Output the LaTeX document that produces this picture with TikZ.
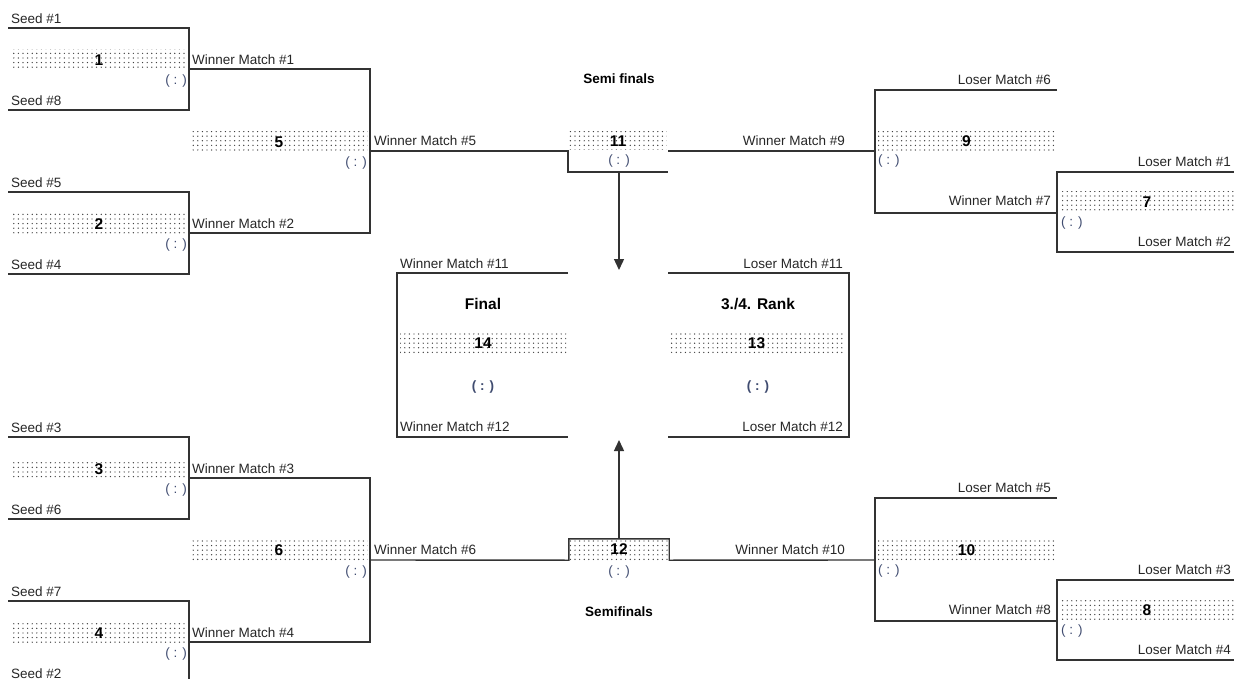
\documentclass[tikz,border=0pt]{standalone}
\usepackage{fontspec}
\setmainfont{Liberation Sans}
\usetikzlibrary{arrows.meta,patterns.meta}
\definecolor{scoreblue}{RGB}{64,76,112}

\begin{document}
\begin{tikzpicture}[x=1pt,y=-1pt,
    line/.style={draw=black!80,line width=1.4pt},
    lbl/.style={inner sep=0pt,text height=9pt,text depth=0pt,font=\fontsize{13.5}{15}\selectfont,text=black!85},
    head/.style={inner sep=0pt,text height=10pt,text depth=0pt,font=\fontsize{13.5}{15}\selectfont\bfseries},
    big/.style={inner sep=0pt,text height=11pt,text depth=0pt,font=\fontsize{15.5}{17}\selectfont\bfseries},
    band/.style={inner sep=0pt,minimum height=20pt,text height=10.5pt,text depth=0pt,
        font=\fontsize{15.5}{17}\selectfont\bfseries,
        pattern={Dots[distance=4.6pt,radius=0.7pt]},pattern color=black!75},
    score/.style={inner sep=0pt,font=\fontsize{13.5}{15}\selectfont,text=scoreblue},
    arr/.style={line,-{Triangle[width=10pt,length=11pt]}}]
    \useasboundingbox (0,0) rectangle (1234,679);

    \foreach \m/\y/\a/\b in {1/28/1/8,2/192/5/4,3/437/3/6,4/601/7/2}{
        \coordinate (top\m) at (8,\y);
        \coordinate (bot\m) at (8,\y+82);
        \coordinate (w\m) at (189,\y+41);
        \node[lbl,anchor=west] (seed\m a) at (11,\y-9) {Seed \#\a};
        \node[lbl,anchor=west] (seed\m b) at (11,\y+73) {Seed \#\b};
        \node[band,minimum width=175pt] (m\m) at (99,\y+32) {\m};
        \node[score,anchor=east] (r\m) at (187,\y+53) {( : )};
        \node[lbl,anchor=west] (wl\m) at (192,\y+32) {Winner Match \#\m};
        \draw[line] (top\m) -| (w\m) |- (bot\m);
    }

    \coordinate (v5) at (370,151);
    \coordinate (v6) at (370,560);
    \draw[line] (w1) -| (v5) |- (w2);
    \draw[line] (w3) -| (v6) |- (w4);
    \node[band,minimum width=177pt] (m5) at (279,142) {5};
    \node[score,anchor=east] (r5) at (367,163) {( : )};
    \node[lbl,anchor=west] (wl5) at (374,141) {Winner Match \#5};
    \node[band,minimum width=177pt] (m6) at (279,550) {6};
    \node[score,anchor=east] (r6) at (367,572) {( : )};
    \node[lbl,anchor=west] (wl6) at (374,550) {Winner Match \#6};

    \node[head] (semi1) at (619,79) {Semi finals};
    \node[band,minimum width=97pt,minimum height=18pt] (m11) at (618,141) {11};
    \node[score] (r11) at (619,161) {( : )};
    \coordinate (k11) at (568,172);
    \coordinate (k11e) at (668,172);
    \coordinate (c11) at (668,151);
    \coordinate (v9) at (875,151);
    \coordinate (a11) at (619,172);
    \coordinate (a11e) at (619,270);
    \draw[line] (v5) -| (k11) -- (k11e);
    \draw[arr] (a11) -- (a11e);

    \node[head] (semi2) at (619,611) {Semifinals};
    \node[band,minimum width=100pt,minimum height=21pt] (m12) at (619,549.5) {12};
    \node[score] (r12) at (619,572) {( : )};
    \coordinate (v10) at (875,560);
    \coordinate (a12e) at (619,440);
    \draw[line] (v6) -- (m12.south west) |- (m12.north east) -- (m12.south east) -- (v10);
    \draw[arr] (m12.north) -- (a12e);

    \coordinate (l6) at (1057,90);
    \coordinate (w7) at (1057,213);
    \draw[line] (c11) -- (v9);
    \draw[line] (l6) -| (v9) |- (w7);
    \node[lbl,anchor=east] (ll6) at (1051,80) {Loser Match \#6};
    \node[lbl,anchor=east] (wl9) at (845,141) {Winner Match \#9};
    \node[band,minimum width=177pt] (m9) at (966.5,141.5) {9};
    \node[score,anchor=west] (r9) at (878,161) {( : )};
    \node[lbl,anchor=east] (wl7) at (1051,201) {Winner Match \#7};

    \coordinate (l1) at (1234,172);
    \coordinate (l2) at (1234,252);
    \draw[line] (l1) -| (w7) |- (l2);
    \node[lbl,anchor=east] (ll1) at (1231,162) {Loser Match \#1};
    \node[band,minimum width=174pt] (m7) at (1147,202) {7};
    \node[score,anchor=west] (r7) at (1061,223) {( : )};
    \node[lbl,anchor=east] (ll2) at (1231,242) {Loser Match \#2};

    \coordinate (l5) at (1057,498);
    \coordinate (w8) at (1057,621);
    \draw[line] (l5) -| (v10) |- (w8);
    \node[lbl,anchor=east] (ll5) at (1051,488) {Loser Match \#5};
    \node[lbl,anchor=east] (wl10) at (845,550) {Winner Match \#10};
    \node[band,minimum width=177pt] (m10) at (966.5,550) {10};
    \node[score,anchor=west] (r10) at (878,571) {( : )};
    \node[lbl,anchor=east] (wl8) at (1051,610) {Winner Match \#8};

    \coordinate (l3) at (1234,580);
    \coordinate (l4) at (1234,660);
    \draw[line] (l3) -| (w8) |- (l4);
    \node[lbl,anchor=east] (ll3) at (1231,570) {Loser Match \#3};
    \node[band,minimum width=174pt] (m8) at (1147,610) {8};
    \node[score,anchor=west] (r8) at (1061,631) {( : )};
    \node[lbl,anchor=east] (ll4) at (1231,650) {Loser Match \#4};

    \coordinate (fa) at (568,273);
    \coordinate (fb) at (568,437);
    \coordinate (fc) at (397,355);
    \draw[line] (fa) -| (fc) |- (fb);
    \node[lbl,anchor=west] (wl11) at (400,264) {Winner Match \#11};
    \node[big] (fin) at (483,304) {Final};
    \node[band,minimum width=166pt,minimum height=21pt] (m14) at (483,343.5) {14};
    \node[score,font=\fontsize{13.5}{15}\selectfont\bfseries] (r14) at (483,387) {( : )};
    \node[lbl,anchor=west] (wl12) at (400,427) {Winner Match \#12};

    \coordinate (ra) at (668,273);
    \coordinate (rb) at (668,437);
    \coordinate (rc) at (849,355);
    \draw[line] (ra) -| (rc) |- (rb);
    \node[lbl,anchor=east] (ll11) at (843,264) {Loser Match \#11};
    \node[big] (rank) at (758,304) {3./4. Rank};
    \node[band,minimum width=177pt,minimum height=21pt] (m13) at (756.5,343.5) {13};
    \node[score,font=\fontsize{13.5}{15}\selectfont\bfseries] (r13) at (758,387) {( : )};
    \node[lbl,anchor=east] (ll12) at (843,427) {Loser Match \#12};
\end{tikzpicture}
\end{document}
